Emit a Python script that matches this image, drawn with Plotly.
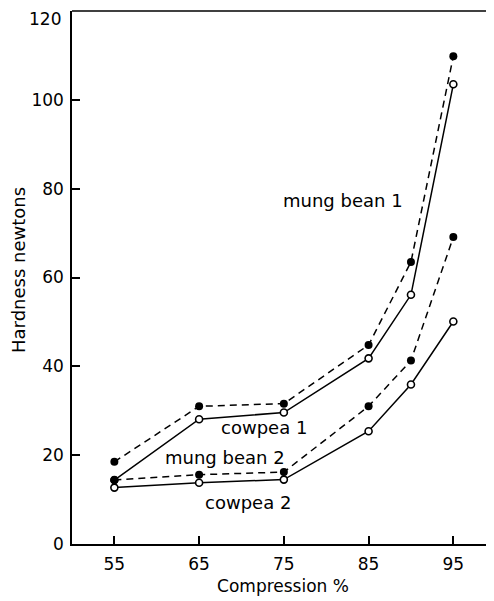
import plotly.graph_objects as go

compression = [55, 65, 75, 85, 90, 95]
mung_bean_1 = [18.5, 31.0, 31.6, 44.8, 63.5, 109.8]
cowpea_1 = [14.4, 28.1, 29.6, 41.8, 56.1, 103.5]
mung_bean_2 = [14.4, 15.6, 16.2, 31.0, 41.3, 69.1]
cowpea_2 = [12.7, 13.8, 14.5, 25.4, 35.9, 50.1]

x_ticks = [55, 65, 75, 85, 95]
y_ticks = [0, 20, 40, 60, 80, 100, 120]

labels = ["mung bean 1", "cowpea 1", "mung bean 2", "cowpea 2"]
label_x = [82.0, 72.6, 68.0, 70.8]
label_y = [77.4, 26.2, 19.4, 9.3]

FONT = "DejaVu Sans"
fig = go.Figure()

def open_series(y):
    fig.add_trace(go.Scatter(
        x=compression, y=y, mode="lines+markers",
        line=dict(color="black", width=1.5),
        marker=dict(symbol="circle", size=7, color="white",
                    line=dict(color="black", width=1.6)),
        showlegend=False, hoverinfo="skip"))

def filled_series(y):
    fig.add_trace(go.Scatter(
        x=compression, y=y, mode="lines+markers",
        line=dict(color="black", width=1.5, dash="7px,5px"),
        marker=dict(symbol="circle", size=8, color="black"),
        showlegend=False, hoverinfo="skip"))

open_series(cowpea_1)
open_series(cowpea_2)
filled_series(mung_bean_1)
filled_series(mung_bean_2)

for t, lx, ly in zip(labels, label_x, label_y):
    fig.add_annotation(x=lx, y=ly, text=t, showarrow=False,
                       font=dict(family=FONT, size=18, color="black"),
                       xanchor="center", yanchor="middle")

# top tick label sits slightly below its tick in the original (would be clipped otherwise)
y_ticktext = [str(v) for v in y_ticks[:-1]] + [""]
fig.add_annotation(xref="paper", x=-0.0205, xanchor="right", yref="y",
                   y=y_ticks[-1], yshift=-8, yanchor="middle", showarrow=False,
                   text=str(y_ticks[-1]), font=dict(family=FONT, size=17, color="black"))

# y-axis title
fig.add_annotation(xref="paper", x=-0.128, xanchor="center", yref="paper", y=0.514,
                   yanchor="middle", textangle=-90, showarrow=False,
                   text="Hardness newtons", font=dict(family=FONT, size=18, color="black"))

fig.add_shape(type="line", xref="paper", yref="paper", x0=0, x1=1, y0=1, y1=1,
              line=dict(color="black", width=1.5))

fig.update_layout(
    width=486, height=593,
    margin=dict(l=64, r=0, t=3, b=57),
    plot_bgcolor="white", paper_bgcolor="white",
    font=dict(family=FONT, size=17, color="black"),
    xaxis=dict(range=[50, 99.8], tickvals=x_ticks, ticks="inside", ticklen=8,
               tickwidth=1.5, tickcolor="black", showline=True, linewidth=1.5,
               linecolor="black", showgrid=False, zeroline=False, automargin=False,
               ticklabelstandoff=4,
               tickfont=dict(family=FONT, size=17),
               title=dict(text="Compression %", font=dict(family=FONT, size=17),
                          standoff=7)),
    yaxis=dict(range=[0, 120], tickvals=y_ticks, ticktext=y_ticktext,
               ticks="inside", ticklen=8,
               tickwidth=1.5, tickcolor="black", showline=True, linewidth=1.5,
               linecolor="black", showgrid=False, zeroline=False, automargin=False,
               ticklabelstandoff=3,
               tickfont=dict(family=FONT, size=17)),
)

fig.write_html("out.html")
